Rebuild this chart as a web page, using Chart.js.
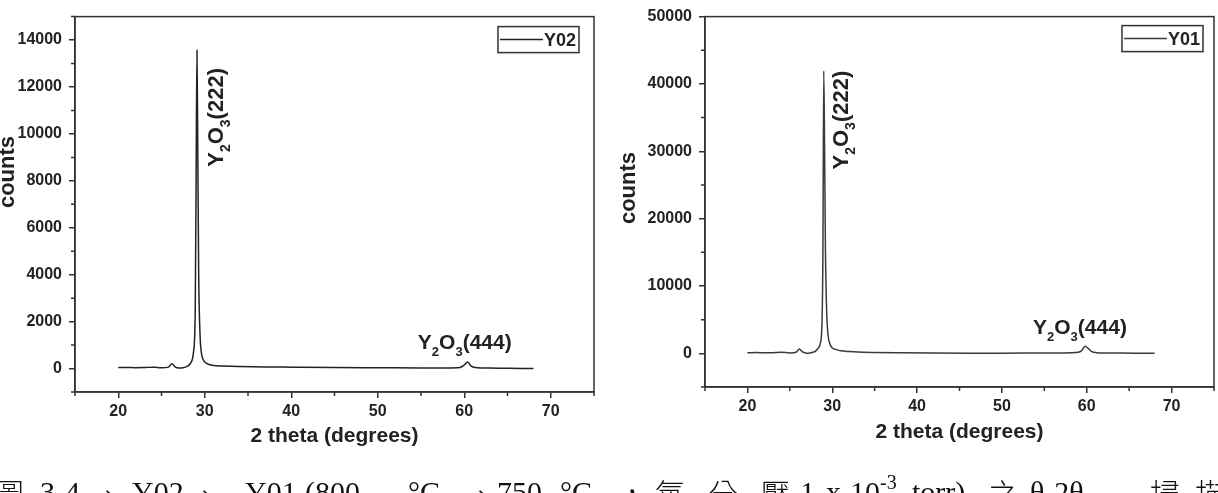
<!DOCTYPE html>
<html>
<head>
<meta charset="utf-8">
<script src="https://cdn.jsdelivr.net/npm/chart.js@4.4.0/dist/chart.umd.min.js"></script>
<style>
html, body { margin:0; padding:0; background:#fff; overflow:hidden; width:1218px; height:493px; }
.box { position:absolute; top:0; height:493px; }
#left { left:0; width:600px; }
#right { left:600px; width:618px; }
.cap { position:absolute; top:477px; font-family:"Liberation Serif", serif; font-size:30px; line-height:30px; color:#111; white-space:nowrap; }
.cjk { font-family:"Noto Sans CJK TC", sans-serif; font-weight:300; }
sup { font-size:20px; vertical-align:baseline; position:relative; top:-13px; line-height:0; }
</style>
</head>
<body>
<div class="box" id="left"><canvas id="chartY02"></canvas></div>
<div class="box" id="right"><canvas id="chartY01"></canvas></div>

<span class="cap cjk" style="left:-6px">圖</span>
<span class="cap" style="left:40px">3-4</span>
<span class="cap cjk" style="left:95px">、</span>
<span class="cap" style="left:132px">Y02</span>
<span class="cap cjk" style="left:192px">、</span>
<span class="cap" style="left:245px">Y01</span>
<span class="cap" style="left:305px">(800</span>
<span class="cap" style="left:408px">°C</span>
<span class="cap cjk" style="left:468px">、</span>
<span class="cap" style="left:497px">750</span>
<span class="cap" style="left:560px">°C</span>
<span class="cap cjk" style="left:617px">，</span>
<span class="cap cjk" style="left:655px">氧</span>
<span class="cap cjk" style="left:708px">分</span>
<span class="cap cjk" style="left:760px">壓</span>
<span class="cap" style="left:800px">1</span>
<span class="cap" style="left:826px">x</span>
<span class="cap" style="left:850px">10<sup>-3</sup></span>
<span class="cap" style="left:912px">torr)</span>
<span class="cap cjk" style="left:988px">之</span>
<span class="cap" style="left:1030px">θ-2θ</span>
<span class="cap cjk" style="left:1150px">掃</span>
<span class="cap cjk" style="left:1195px">描</span>

<script>
// Y02 (800 C) scan
const thetaY02 = [20, 21, 22, 23, 24, 24.3, 25, 25.8, 26.2, 26.6, 27, 27.5, 28, 28.4, 28.7, 28.9, 29.0, 29.1, 29.2, 29.3, 29.45, 29.6, 29.8, 30.2, 31, 32, 34, 37, 40, 45, 50, 55, 58, 59.5, 60.0, 60.4, 60.8, 61.5, 63, 65, 68]
const countsY02 = [40, 45, 35, 40, 60, 50, 30, 60, 200, 60, 20, 30, 100, 250, 700, 2500, 8000, 13570, 9000, 4000, 1500, 700, 400, 220, 130, 110, 90, 70, 60, 45, 35, 25, 20, 40, 150, 277, 100, 30, 20, 10, 5]

// Y01 (750 C) scan
const thetaY01 = [20, 21, 22, 23, 24, 25, 25.8, 26.1, 26.5, 27, 27.5, 28, 28.3, 28.6, 28.8, 28.9, 29.0, 29.1, 29.2, 29.35, 29.5, 29.7, 30, 30.5, 31, 32, 33, 35, 38, 42, 46, 50, 54, 57, 59, 59.4, 59.8, 60.2, 60.6, 61.2, 62, 64, 66, 68]
const countsY01 = [90, 110, 80, 100, 150, 60, 200, 660, 200, 20, 100, 300, 700, 1500, 5000, 15000, 41930, 30000, 15000, 6000, 2800, 1500, 800, 550, 380, 260, 180, 120, 80, 50, 30, 20, 40, 60, 150, 400, 1050, 700, 250, 100, 60, 40, 20, 0]

const xTicks = [20, 30, 40, 50, 60, 70]
const xMinorTicks = [15, 25, 35, 45, 55, 65, 75]
const yTicksY02 = [0, 2000, 4000, 6000, 8000, 10000, 12000, 14000]
const yMinorY02 = [-1000, 1000, 3000, 5000, 7000, 9000, 11000, 13000, 15000]
const yTicksY01 = [0, 10000, 20000, 30000, 40000, 50000]
const yMinorY01 = [-5000, 5000, 15000, 25000, 35000, 45000]

// peak labels: [2theta, counts, hkl, rotated]
const peaksY02 = [[29.1, 8600, '(222)', true], [60.06, 814, '(444)', false]]
const peaksY01 = [[29.0, 27300, '(222)', true], [59.2, 2930, '(444)', false]]

Chart.defaults.font.family = '"Liberation Sans", Arial, sans-serif'
Chart.defaults.color = '#222'

function formula(ctx, x, y, hkl, size, rotated) {
    const parts = [['Y', 0], ['2', 1], ['O', 0], ['3', 1], [hkl, 0]]
    const big = 'bold ' + size + 'px "Liberation Sans", Arial'
    const small = 'bold ' + Math.round(size * 0.62) + 'px "Liberation Sans", Arial'
    let total = 0
    for (const p of parts) {
        ctx.font = p[1] ? small : big
        total += ctx.measureText(p[0]).width
    }
    ctx.save()
    ctx.translate(x, y)
    if (rotated) ctx.rotate(-Math.PI / 2)
    ctx.fillStyle = '#222'
    ctx.textBaseline = 'alphabetic'
    ctx.textAlign = 'left'
    let cx = rotated ? 0 : -total / 2
    for (const p of parts) {
        ctx.font = p[1] ? small : big
        ctx.fillText(p[0], cx, p[1] ? size * 0.33 : 0)
        cx += ctx.measureText(p[0]).width
    }
    ctx.restore()
}

function drawXrd(id, theta, counts, name, color, yTicks, yMinor, yMin, yMax, lay) {
    const points = []
    for (let i = 0; i < theta.length; i++) {
        points.push({x: theta[i], y: counts[i]})
    }

    const extras = {
        id: 'extras',
        afterDraw(chart) {
            const ctx = chart.ctx
            const a = chart.chartArea
            const xs = chart.scales.x
            const ys = chart.scales.y
            ctx.save()
            ctx.strokeStyle = '#333'
            ctx.lineWidth = 1.5
            ctx.strokeRect(a.left, a.top, a.right - a.left, a.bottom - a.top)

            // minor ticks
            ctx.beginPath()
            for (const v of xMinorTicks) {
                const px = xs.getPixelForValue(v)
                ctx.moveTo(px, a.bottom)
                ctx.lineTo(px, a.bottom + 4)
            }
            for (const v of yMinor) {
                const py = ys.getPixelForValue(v)
                ctx.moveTo(a.left, py)
                ctx.lineTo(a.left - 4, py)
            }
            ctx.stroke()

            // legend box
            ctx.font = 'bold 18px "Liberation Sans", Arial'
            const tw = ctx.measureText(name).width
            const bw = 2 + 43 + 1 + tw + 3
            const bx = a.right - lay.legRight - bw
            const by = a.top + lay.legTop
            ctx.lineWidth = 1.5
            ctx.strokeStyle = '#333'
            ctx.strokeRect(bx, by, bw, 26)
            ctx.strokeStyle = color
            ctx.beginPath()
            ctx.moveTo(bx + 2, by + 13)
            ctx.lineTo(bx + 45, by + 13)
            ctx.stroke()
            ctx.fillStyle = '#222'
            ctx.textBaseline = 'middle'
            ctx.fillText(name, bx + 46, by + 14)

            // axis titles
            ctx.font = 'bold 21px "Liberation Sans", Arial'
            ctx.textAlign = 'center'
            ctx.textBaseline = 'alphabetic'
            ctx.fillText('2 theta (degrees)', (a.left + a.right) / 2, lay.xTitleY)
            ctx.save()
            ctx.translate(lay.yTitleX, lay.yTitleY)
            ctx.rotate(-Math.PI / 2)
            ctx.font = 'bold 22px "Liberation Sans", Arial'
            ctx.fillText('counts', 0, 0)
            ctx.restore()
            ctx.restore()

            for (const pk of lay.peaks) {
                const px = xs.getPixelForValue(pk[0])
                const py = ys.getPixelForValue(pk[1])
                if (pk[3]) {
                    formula(ctx, px + lay.rotDx, py, pk[2], 22, true)
                } else {
                    formula(ctx, px, py, pk[2], 21, false)
                }
            }
        }
    }

    const tickFont = {size: 16, weight: 'bold'}
    new Chart(document.getElementById(id), {
        type: 'line',
        data: {
            datasets: [{
                label: name,
                data: points,
                borderColor: color,
                borderWidth: 1.5,
                pointRadius: 0,
                fill: false,
                cubicInterpolationMode: 'monotone'
            }]
        },
        options: {
            responsive: true,
            maintainAspectRatio: false,
            animation: false,
            layout: {padding: {left: 0, right: lay.padRight, top: lay.padTop, bottom: 0}},
            plugins: {legend: {display: false}, tooltip: {enabled: false}},
            scales: {
                x: {
                    type: 'linear',
                    min: 15,
                    max: 75,
                    afterBuildTicks: s => { s.ticks = xTicks.map(v => ({value: v})) },
                    afterFit: s => { s.height = lay.xHeight },
                    grid: {drawOnChartArea: false, tickLength: 6, color: '#333', lineWidth: 1.5},
                    border: {color: '#333', width: 1.5},
                    ticks: {font: tickFont, padding: 4, maxRotation: 0}
                },
                y: {
                    type: 'linear',
                    min: yMin,
                    max: yMax,
                    afterBuildTicks: s => { s.ticks = yTicks.map(v => ({value: v})) },
                    afterFit: s => { s.width = lay.yWidth },
                    grid: {drawOnChartArea: false, tickLength: 6, color: '#333', lineWidth: 1.5},
                    border: {color: '#333', width: 1.5},
                    ticks: {font: tickFont, padding: 7, callback: v => String(v)}
                }
            }
        },
        plugins: [extras]
    })
}

drawXrd('chartY02', thetaY02, countsY02, 'Y02', '#222', yTicksY02, yMinorY02, -1000, 15000,
    {yWidth: 75, xHeight: 101, padTop: 5, padRight: 6, legRight: 15, legTop: 10,
     xTitleY: 442, yTitleX: 14, yTitleY: 172, rotDx: 26, peaks: peaksY02})
drawXrd('chartY01', thetaY01, countsY01, 'Y01', '#3a3a3a', yTicksY01, yMinorY01, -5000, 50000,
    {yWidth: 105, xHeight: 106, padTop: 6, padRight: 4, legRight: 11, legTop: 9,
     xTitleY: 438, yTitleX: 35, yTitleY: 188, rotDx: 24, peaks: peaksY01})
</script>
</body>
</html>
